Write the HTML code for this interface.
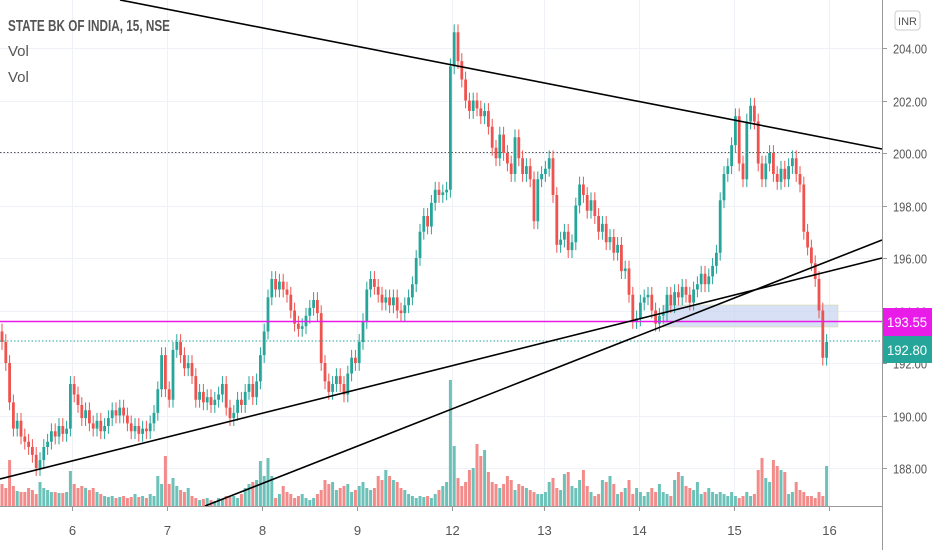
<!DOCTYPE html>
<html><head><meta charset="utf-8"><style>
body{margin:0;background:#fff}
svg{display:block;font-family:"Liberation Sans",sans-serif}
</style></head><body>
<svg id="chart" width="932" height="550" viewBox="0 0 932 550">
<g id="grid"></g>
<g id="vol"></g>
<rect x="663" y="305" width="175" height="22" fill="#c9d6f0" fill-opacity="0.75" stroke="#d8dcaa" stroke-width="0.6"/>
<line x1="0" y1="152.5" x2="882" y2="152.5" stroke="#555" stroke-dasharray="1.5 2"/>
<g id="candles"></g>
<line x1="0" y1="321.5" x2="882" y2="321.5" stroke="#e91be9" stroke-width="1.6"/>
<line x1="0" y1="341" x2="882" y2="341" stroke="#26a69a" stroke-dasharray="1.5 2"/>
<line x1="120" y1="0" x2="882" y2="149" stroke="#000" stroke-width="1.6"/>
<line x1="0" y1="479" x2="882" y2="258" stroke="#000" stroke-width="1.6"/>
<line x1="205" y1="506" x2="882" y2="240" stroke="#000" stroke-width="1.6"/>
<rect x="883" y="0" width="49" height="550" fill="#fff"/>
<rect x="0" y="507" width="882" height="43" fill="#fff"/>
<line x1="882.5" y1="0" x2="882.5" y2="550" stroke="#999"/>
<line x1="0" y1="506.5" x2="882" y2="506.5" stroke="#999"/>
<g id="axes"></g>
<rect x="883" y="308" width="49" height="28" fill="#e91be9"/>
<text x="907" y="327" text-anchor="middle" font-size="14" fill="#fff" textLength="40" lengthAdjust="spacingAndGlyphs">193.55</text>
<rect x="883" y="336" width="49" height="27" fill="#26a69a"/>
<text x="907" y="355" text-anchor="middle" font-size="14" fill="#fff" textLength="40" lengthAdjust="spacingAndGlyphs">192.80</text>
<rect x="895" y="11" width="25" height="19" rx="3" fill="#fff" stroke="#ccc"/>
<text x="907.5" y="25" text-anchor="middle" font-size="11" fill="#555">INR</text>
<text x="8" y="31" font-size="16" fill="#555" style="font-weight:bold" textLength="162" lengthAdjust="spacingAndGlyphs">STATE BK OF INDIA, 15, NSE</text>
<text x="8" y="56" font-size="15" fill="#555">Vol</text>
<text x="8" y="82" font-size="15" fill="#555">Vol</text>
</svg>
<script>
const closes=[192.8,192.0,190.5,189.5,189.8,189.2,189.0,188.8,188.5,188.0,188.3,188.8,189.0,189.4,189.2,189.6,189.3,189.5,
191.2,190.8,190.4,189.9,190.2,189.7,189.5,189.8,189.4,189.6,189.9,190.2,190.0,190.3,190.0,189.7,189.4,189.6,189.3,189.5,189.4,189.7,190.1,191.0,192.3,
191.0,190.6,192.5,192.8,192.3,191.8,192.0,191.5,190.6,190.9,190.5,190.7,190.4,190.6,190.8,191.2,190.3,189.9,190.1,190.6,190.4,190.9,191.2,190.7,191.3,
192.3,193.2,194.5,195.2,194.8,195.1,194.8,194.6,194.0,193.5,193.3,193.4,193.8,194.1,194.4,193.9,192.0,191.3,190.9,191.2,191.5,191.2,190.8,191.6,192.2,
192.0,192.8,193.6,194.8,195.2,194.9,194.6,194.3,194.5,194.2,194.5,194.0,193.9,194.2,194.5,195.0,196.0,197.0,197.6,197.2,198.1,198.6,198.4,198.5,198.6,
203.3,204.6,203.5,202.8,202.0,201.6,202.0,201.7,201.4,201.6,201.0,200.2,199.8,200.7,200.0,199.6,199.2,200.6,199.8,199.2,199.5,199.0,197.4,199.0,
199.2,199.4,199.8,198.4,196.5,196.7,197.0,196.3,196.6,198.0,198.8,198.4,197.8,198.2,197.6,197.0,197.3,196.6,196.8,196.2,196.5,195.5,195.6,194.6,193.6,
193.7,194.3,194.5,194.6,194.0,193.5,193.8,193.9,194.6,194.2,194.7,194.5,194.9,194.6,194.3,194.8,195.0,195.4,195.0,195.3,195.7,196.2,198.2,199.2,199.5,
200.3,201.4,199.6,199.0,201.2,201.8,201.2,199.6,199.0,199.6,200.0,199.2,198.9,199.4,199.0,199.5,199.8,199.2,198.8,197.0,196.4,195.8,195.2,194.0,192.2,192.8];
const openFirst=193.2;
const volumes=[22,18,46,20,15,14,14,18,16,12,24,18,16,14,14,13,13,14,
35,22,18,20,18,16,18,14,12,10,9,10,8,9,10,8,9,12,9,10,8,12,10,30,22,
50,22,28,20,16,14,18,10,8,6,7,8,6,5,8,7,10,9,10,8,12,18,22,24,26,
45,30,48,30,8,12,20,14,12,8,10,12,8,6,8,12,16,26,22,24,16,18,20,22,14,
16,20,24,18,16,18,30,26,36,30,26,24,18,16,12,10,8,10,9,10,8,12,16,20,24,
126,60,28,20,24,36,38,62,50,56,34,24,22,18,22,30,26,16,22,20,18,16,14,12,
12,14,24,28,18,16,32,34,20,18,26,36,20,14,10,12,26,24,30,22,12,14,18,26,12,
18,14,10,14,18,14,22,14,12,10,26,34,30,20,18,16,24,12,14,18,14,12,14,12,10,
14,10,8,10,14,10,12,36,48,28,24,46,40,36,34,12,14,24,16,14,10,10,8,14,10,40,26];
const dayLabels=["6","7","8","9","12","13","14","15","16"];
const dayStartIdx=[18,43,68,93,118,142,167,192,217];
const priceTicks=[188,190,192,194,196,198,200,202,204];

const svgNS="http://www.w3.org/2000/svg";
const X0=2,STEP=3.8;
const xOf=i=>X0+i*STEP;
const yOf=p=>153-(p-200)*26.25;
const VBASE=506;
function mk(tag,attrs,parent){const e=document.createElementNS(svgNS,tag);for(const k in attrs)e.setAttribute(k,attrs[k]);parent.appendChild(e);return e;}
const grid=document.getElementById('grid'),vol=document.getElementById('vol'),cg=document.getElementById('candles'),ax=document.getElementById('axes');
priceTicks.forEach(p=>{
  const y=Math.round(yOf(p))+0.5;
  const l=mk('line',{x1:0,x2:882,y1:y,y2:y,stroke:'#eef1f6'},grid);
  
  
  const t=mk('line',{x1:882,x2:887,y1:y,y2:y,stroke:'#999'},ax);
  
  
  const tx=mk('text',{x:893,y:y+5,'font-size':13,fill:'#555',textLength:34,lengthAdjust:'spacingAndGlyphs'},ax);
  
  
  tx.textContent=p.toFixed(2);
});
dayStartIdx.forEach((idx,k)=>{
  const x=Math.round(xOf(idx)+2)+0.5;
  const l=mk('line',{x1:x,x2:x,y1:0,y2:506,stroke:'#eef1f6'},grid);
  
  
  const t=mk('line',{x1:x,x2:x,y1:506,y2:511,stroke:'#999'},ax);
  
  
  const tx=mk('text',{x:x,y:535,'font-size':13,fill:'#555','text-anchor':'middle'},ax);
  
  
  tx.textContent=dayLabels[k];
});
closes.forEach((c,i)=>{
  const o=i===0?openFirst:closes[i-1];
  const up=c>=o;
  const col=up?'#26a69a':'#ef5350';
  const x=xOf(i);
  const hi=Math.max(o,c)+0.3,lo=Math.min(o,c)-0.3;
  const w=mk('line',{x1:x,x2:x,y1:yOf(hi),y2:yOf(lo),stroke:col,'stroke-width':1},cg);
  
  
  const top=yOf(Math.max(o,c)),h=Math.max(1,yOf(Math.min(o,c))-top);
  const b=mk('rect',{x:x-1.4,y:top,width:2.8,height:h,fill:col},cg);
  
  
  const v=volumes[i]||0;
  const vb=mk('rect',{x:x-1.5,y:VBASE-v,width:3,height:v,fill:up?'#6cc2b9':'#f28b89'},vol);
  
  
});
</script>
</body></html>
